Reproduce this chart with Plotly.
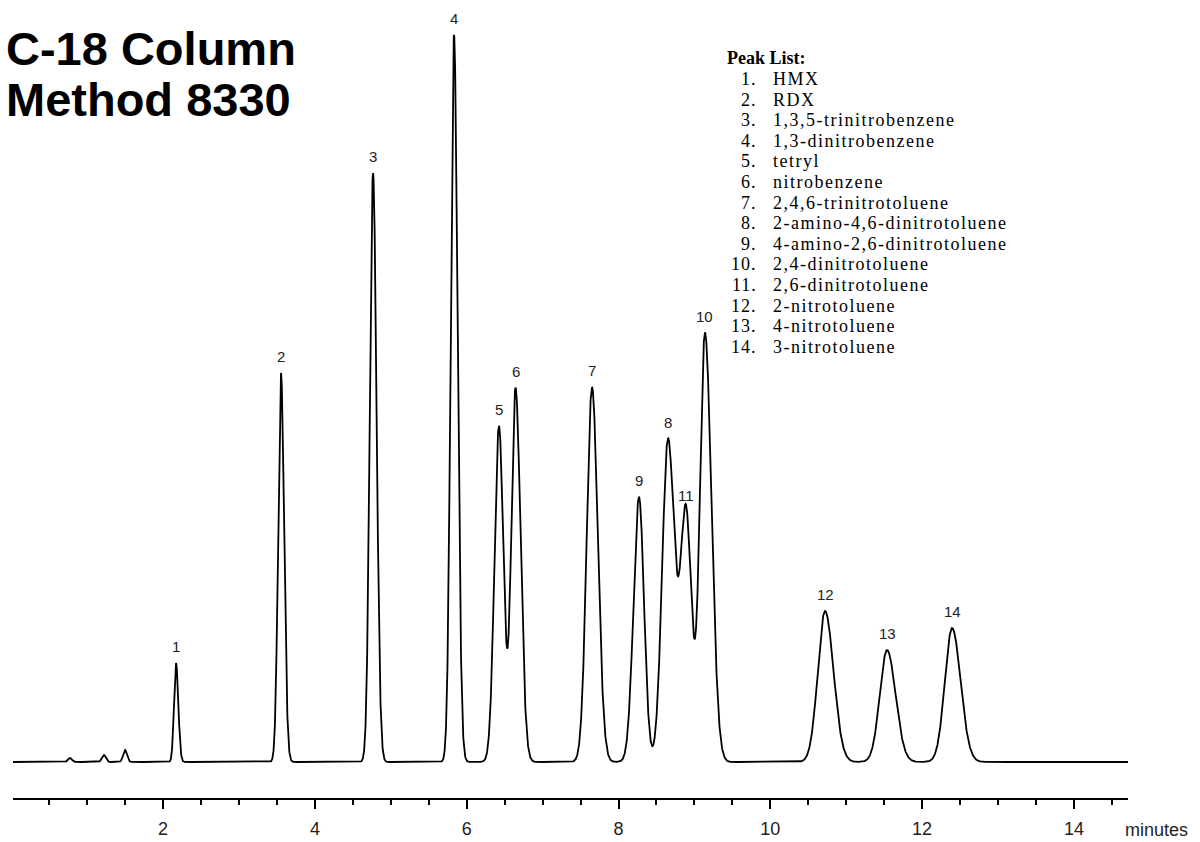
import numpy as np
import plotly.graph_objects as go

# ---- data (retention time in minutes, height in detector units) ----
peak_ids = ["1", "2", "3", "4", "5", "6", "7", "9", "8", "11", "10", "12", "13", "14"]
peak_times = [2.170, 3.553, 4.766, 5.833, 6.425, 6.643, 7.651, 8.270, 8.652, 8.889, 9.139, 10.721, 11.538, 12.395]
peak_heights = [99, 389, 589, 727, 336, 374, 375, 265, 323, 250, 429, 151, 112, 134]
peak_sigma_left = [0.026, 0.037, 0.042, 0.043, 0.059, 0.055, 0.069, 0.072, 0.076, 0.072, 0.066, 0.095, 0.095, 0.095]
peak_sigma_right = [0.030, 0.041, 0.046, 0.047, 0.059, 0.066, 0.076, 0.066, 0.086, 0.072, 0.086, 0.112, 0.112, 0.112]

# small unlabelled early bumps
minor_times = [0.773, 1.221, 1.499]
minor_heights = [4, 7, 12]
minor_sigma = [0.026, 0.026, 0.026]

compound_names = [
    "HMX", "RDX", "1,3,5-trinitrobenzene", "1,3-dinitrobenzene", "tetryl",
    "nitrobenzene", "2,4,6-trinitrotoluene", "2-amino-4,6-dinitrotoluene",
    "4-amino-2,6-dinitrotoluene", "2,4-dinitrotoluene", "2,6-dinitrotoluene",
    "2-nitrotoluene", "4-nitrotoluene", "3-nitrotoluene",
]

x_ticks = [2, 4, 6, 8, 10, 12, 14]

# ---- build detector trace from the peak table ----
t = np.linspace(0.0, 14.72, 7400)
signal = np.zeros_like(t)
for tr, h, sl, sr in zip(peak_times, peak_heights, peak_sigma_left, peak_sigma_right):
    s = np.where(t < tr, sl, sr)
    signal += h * np.exp(-0.5 * ((t - tr) / s) ** 2)
for tr, h, s in zip(minor_times, minor_heights, minor_sigma):
    signal += h * np.exp(-0.5 * ((t - tr) / s) ** 2)

fig = go.Figure()
fig.add_trace(go.Scatter(x=t, y=signal, mode="lines",
                         line=dict(color="black", width=1.8),
                         hoverinfo="skip", showlegend=False))

# ---- layout geometry (pixels) ----
W, H = 1200, 842
ML, MR, MT, MB = 13, 72, 0, 44
PW = W - ML - MR
PH = H - MT - MB


def px_x(px):
    return (px - ML) / PW


def px_y(py):
    return (PH - (py - MT)) / PH


annotations = []
# peak number labels
for pid, tr, h in zip(peak_ids, peak_times, peak_heights):
    annotations.append(dict(x=tr, y=h, xref="x", yref="y", text=pid, showarrow=False,
                            yanchor="middle", xanchor="center", yshift=17,
                            font=dict(family="Liberation Sans, Arial", size=15, color="#222")))

# title
title_font = dict(family="Liberation Sans, Arial", size=47, color="black")
annotations.append(dict(x=px_x(4), y=px_y(49), xref="paper", yref="paper", text="<b>C-18 Column</b>",
                        showarrow=False, xanchor="left", yanchor="middle", font=title_font))
annotations.append(dict(x=px_x(4), y=px_y(99), xref="paper", yref="paper", text="<b>Method 8330</b>",
                        showarrow=False, xanchor="left", yanchor="middle", font=title_font))

# peak list
serif = dict(family="Liberation Serif, Times New Roman", size=18, color="black")
annotations.append(dict(x=px_x(725), y=px_y(58), xref="paper", yref="paper",
                        text="<b>Peak List:</b>",
                        showarrow=False, xanchor="left", yanchor="middle", font=serif))
for i, name in enumerate(compound_names):
    yy = px_y(79 + i * 20.6)
    annotations.append(dict(x=px_x(759), y=yy, xref="paper", yref="paper",
                            text=f"<span style='letter-spacing:1px'>{i + 1}.</span>",
                            showarrow=False, xanchor="right", yanchor="middle", font=serif))
    annotations.append(dict(x=px_x(771), y=yy, xref="paper", yref="paper",
                            text=f"<span style='letter-spacing:1.5px'>{name}</span>",
                            showarrow=False, xanchor="left", yanchor="middle", font=serif))

# axis title
annotations.append(dict(x=px_x(1123), y=px_y(830), xref="paper", yref="paper", text="minutes",
                        showarrow=False, xanchor="left", yanchor="middle",
                        font=dict(family="Liberation Sans, Arial", size=18, color="#222")))

x0 = (ML - 11.3) / 75.9
x1 = (W - MR - 11.3) / 75.9

fig.update_layout(
    width=W, height=H,
    margin=dict(l=ML, r=MR, t=MT, b=MB, autoexpand=False),
    paper_bgcolor="white", plot_bgcolor="white",
    showlegend=False,
    annotations=annotations,
    xaxis=dict(range=[x0, x1], tickmode="array", tickvals=x_ticks,
               ticktext=[str(v) for v in x_ticks],
               showline=True, linecolor="black", linewidth=2,
               ticks="outside", ticklen=9, tickwidth=2, tickcolor="black",
               ticklabelstandoff=4,
               minor=dict(dtick=0.5, tick0=0, ticks="outside", ticklen=5, tickwidth=2, tickcolor="black"),
               showgrid=False, zeroline=False,
               tickfont=dict(family="Liberation Sans, Arial", size=18, color="#222")),
    yaxis=dict(range=[-36, 762], visible=False, showgrid=False, zeroline=False),
)

fig.write_html("out.html", config={"displayModeBar": False},
               post_script="document.body.style.margin='0';document.body.style.overflow='hidden';")
